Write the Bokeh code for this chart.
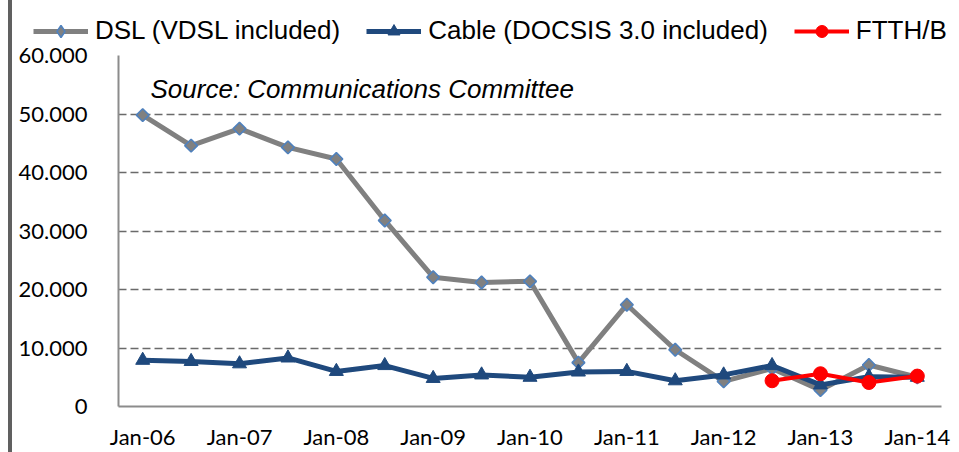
import numpy as np
from bokeh.plotting import figure
from bokeh.models import Range1d, FixedTicker, Legend, LegendItem, Label, Div
from bokeh.layouts import row, column
from bokeh.embed import file_html
from bokeh.resources import INLINE

# ---------------- data ----------------
months = ["Jan-06", "Jul-06", "Jan-07", "Jul-07", "Jan-08", "Jul-08", "Jan-09", "Jul-09",
          "Jan-10", "Jul-10", "Jan-11", "Jul-11", "Jan-12", "Jul-12", "Jan-13", "Jul-13", "Jan-14"]
dsl = [49800, 44600, 47500, 44300, 42300, 31800, 22100, 21200, 21400,
       7500, 17400, 9700, 4300, 6500, 2800, 7100, 5000]
cable = [7900, 7700, 7300, 8300, 6000, 7000, 4800, 5400, 5000,
         5900, 6000, 4400, 5400, 7000, 3700, 5100, 5000]
ftth = [None, None, None, None, None, None, None, None, None,
        None, None, None, None, 4400, 5600, 4100, 5200]
series_names = ["DSL (VDSL included)", "Cable (DOCSIS 3.0 included)", "FTTH/B"]
y_ticks = [0, 10000, 20000, 30000, 40000, 50000, 60000]
y_tick_labels = ["0", "10.000", "20.000", "30.000", "40.000", "50.000", "60.000"]
source_note = "Source: Communications Committee"

# series styles
styles = [
    dict(color="#808080", width=5, marker="square", legend_marker="diamond", size=9,
         angle=np.pi / 4, fill="#808080", edge="#4F81BD", edge_w=1.6),
    dict(color="#1F497D", width=5, marker="triangle", legend_marker="triangle", size=14,
         angle=0, fill="#1F497D", edge="#1F497D", edge_w=1),
    dict(color="#FF0000", width=4, marker="circle", legend_marker="circle", size=14,
         angle=0, fill="#FF0000", edge="#FF0000", edge_w=1),
]

x = list(range(len(months)))
fx = [i for i, v in zip(x, ftth) if v is not None]
fy = [v for v in ftth if v is not None]
series = [(x, dsl), (x, cable), (fx, fy)]

# ---------------- main chart ----------------
p = figure(width=947, height=417, output_backend="svg", toolbar_location=None,
           x_range=Range1d(-0.5, len(months) - 0.5), y_range=Range1d(0, 60000),
           min_border_left=106, min_border_right=18, min_border_top=20, min_border_bottom=46,
           margin=0)
p.frame_align = False
p.outline_line_color = None
p.background_fill_color = "white"
p.border_fill_alpha = 0

axis_font = "Lato"
p.yaxis.ticker = FixedTicker(ticks=y_ticks)
p.yaxis.major_label_overrides = {t: l for t, l in zip(y_ticks, y_tick_labels)}
p.xaxis.ticker = FixedTicker(ticks=x[::2])
p.xaxis.major_label_overrides = {i: months[i] for i in x[::2]}
for ax in (p.xaxis[0], p.yaxis[0]):
    ax.major_tick_line_color = None
    ax.minor_tick_line_color = None
    ax.axis_line_color = "#8c8c8c"
    ax.axis_line_width = 2
    ax.major_label_text_font = axis_font
    ax.major_label_text_font_size = "22px"
    ax.major_label_text_color = "black"
p.yaxis.major_label_standoff = 25
p.xaxis.major_label_standoff = 10

p.xgrid.grid_line_color = None
p.ygrid.grid_line_color = "#6a6a6a"
p.ygrid.grid_line_dash = "8 4"
p.ygrid.grid_line_width = 1.3

for (xs, ys), s in zip(series, styles):
    p.line(xs, ys, line_color=s["color"], line_width=s["width"], line_join="round")
    p.scatter(xs, ys, marker=s["marker"], size=s["size"], angle=s["angle"],
              fill_color=s["fill"], line_color=s["edge"], line_width=s["edge_w"])

p.add_layout(Label(x=32, y=318, x_units="screen", y_units="screen", text=source_note,
                   text_font="Liberation Sans", text_font_style="italic",
                   text_font_size="26px", text_baseline="middle", text_color="black"))

# ---------------- legend strip above the chart ----------------
# (series drawn here fall outside this strip's ranges; only their legend samples show)
lg = figure(width=947, height=47, output_backend="svg", toolbar_location=None,
            x_range=Range1d(0, 1), y_range=Range1d(-1, 0),
            x_axis_location=None, y_axis_location=None,
            min_border_left=0, min_border_right=0, min_border_top=0, min_border_bottom=0,
            margin=(0, 0, -12, 0))
lg.frame_align = False
lg.outline_line_color = None
lg.grid.visible = False
lg.background_fill_color = "white"
lg.border_fill_color = "white"
items = []
for name, (xs, ys), s in zip(series_names, series, styles):
    r1 = lg.line(xs, ys, line_color=s["color"], line_width=s["width"])
    r2 = lg.scatter(xs, ys, marker=s["legend_marker"], size=s["size"],
                    fill_color=s["fill"], line_color=s["edge"], line_width=s["edge_w"])
    items.append(LegendItem(label=name, renderers=[r1, r2]))
legend = Legend(items=items, orientation="horizontal", location=(21, 1),
                padding=0, margin=0, spacing=26,
                glyph_width=55, glyph_height=30, label_standoff=7,
                label_text_font="Liberation Sans", label_text_font_size="26px",
                label_text_color="black",
                border_line_color=None, background_fill_alpha=0)
lg.add_layout(legend, "center")

# dark frame edge at the left of the picture
bar = Div(width=4, height=452, margin=(0, 0, 0, 8),
          styles={"background-color": "#606060"})
layout = row(bar, column(lg, p, spacing=0), spacing=0)

open("out.html", "w").write(file_html(layout, INLINE))
